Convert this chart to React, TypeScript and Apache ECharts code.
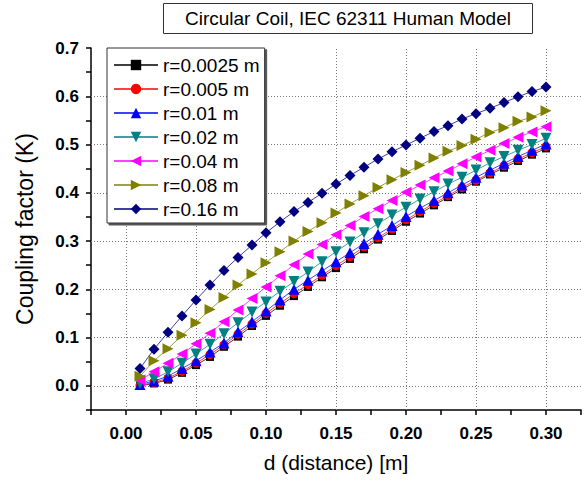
import React, { useEffect, useRef } from "react";
import * as echarts from "echarts";

const distances = [0.01,0.02,0.03,0.04,0.05,0.06,0.07,0.08,0.09,0.10,0.11,0.12,0.13,0.14,0.15,0.16,0.17,0.18,0.19,0.20,0.21,0.22,0.23,0.24,0.25,0.26,0.27,0.28,0.29,0.30];

const r0025 = [0.000,0.005,0.013,0.027,0.043,0.060,0.081,0.102,0.124,0.145,0.166,0.186,0.205,0.225,0.244,0.263,0.283,0.303,0.321,0.340,0.357,0.374,0.391,0.407,0.423,0.438,0.452,0.466,0.479,0.492];
const r005 = [0.001,0.007,0.016,0.030,0.047,0.065,0.085,0.107,0.128,0.150,0.171,0.191,0.210,0.229,0.249,0.268,0.288,0.307,0.325,0.344,0.361,0.378,0.394,0.411,0.426,0.441,0.456,0.470,0.483,0.496];
const r01 = [0.003,0.010,0.020,0.036,0.052,0.070,0.089,0.112,0.133,0.155,0.178,0.200,0.219,0.238,0.257,0.276,0.295,0.314,0.332,0.351,0.368,0.384,0.400,0.416,0.432,0.447,0.461,0.475,0.488,0.501];
const r02 = [0.005,0.014,0.029,0.047,0.066,0.086,0.108,0.131,0.153,0.174,0.196,0.216,0.236,0.257,0.278,0.298,0.317,0.336,0.354,0.370,0.387,0.402,0.418,0.432,0.447,0.462,0.475,0.488,0.500,0.513];
const r04 = [0.012,0.029,0.047,0.066,0.087,0.109,0.133,0.157,0.181,0.205,0.228,0.251,0.273,0.293,0.313,0.332,0.351,0.367,0.384,0.401,0.416,0.431,0.445,0.460,0.474,0.488,0.502,0.515,0.526,0.537];
const r08 = [0.020,0.052,0.077,0.105,0.131,0.158,0.183,0.209,0.232,0.255,0.278,0.300,0.320,0.338,0.358,0.377,0.394,0.411,0.427,0.442,0.457,0.472,0.486,0.498,0.511,0.525,0.535,0.548,0.557,0.570];
const r16 = [0.036,0.076,0.111,0.145,0.178,0.209,0.239,0.266,0.292,0.317,0.340,0.361,0.380,0.399,0.418,0.436,0.453,0.470,0.485,0.499,0.513,0.527,0.539,0.553,0.564,0.575,0.587,0.599,0.610,0.619];

const seriesNames = ["r=0.0025 m","r=0.005 m","r=0.01 m","r=0.02 m","r=0.04 m","r=0.08 m","r=0.16 m"];
const seriesValues = [r0025, r005, r01, r02, r04, r08, r16];
const seriesColors = ["#000000","#ff0000","#0000ff","#008080","#ff00ff","#808000","#000080"];
const seriesSymbols = ["rect","circle","triangle","triangle","triangle","triangle","diamond"];
const seriesRotations = [0,0,0,180,90,-90,0];
const seriesSizes = [8,9,11,11,11,11,11];

const xGridTicks = [0,0.05,0.10,0.15,0.20,0.25,0.30];
const yGridTicks = [0,0.1,0.2,0.3,0.4,0.5,0.6];

const titleText = "Circular Coil, IEC 62311 Human Model";
const xName = "d (distance) [m]";
const yName = "Coupling factor (K)";

const X_MIN = -0.025, X_MAX = 0.325, Y_MIN = -0.05, Y_MAX = 0.7;
const FONT = "'Liberation Sans', Arial, sans-serif";

export default function App() {
  const ref = useRef<HTMLDivElement>(null);
  useEffect(() => {
    if (!ref.current) return;
    const chart = echarts.init(ref.current, null, { renderer: "svg" });
    const gridLines = [
      ...xGridTicks.map((x) => ({ coords: [[x, Y_MIN], [x, Y_MAX]] })),
      ...yGridTicks.map((y) => ({ coords: [[X_MIN, y], [X_MAX, y]] })),
    ];
    const series: any[] = [
      {
        type: "lines",
        coordinateSystem: "cartesian2d",
        z: 1,
        silent: true,
        data: gridLines,
        lineStyle: { color: "#777", width: 1, type: [1, 2], opacity: 1 },
      },
      ...seriesNames.map((name, i) => ({
        type: "line",
        name,
        z: 2,
        data: distances.map((d, j) => [d, seriesValues[i][j]]),
        symbol: seriesSymbols[i],
        symbolRotate: seriesRotations[i],
        symbolSize: seriesSizes[i],
        showAllSymbol: true,
        lineStyle: { color: seriesColors[i], width: 1, opacity: 0.75 },
        itemStyle: { color: seriesColors[i], borderWidth: 0 },
      })),
    ];
    chart.setOption({
      animation: false,
      backgroundColor: "#ffffff",
      textStyle: { fontFamily: FONT },
      title: {
        text: titleText,
        left: 163,
        top: 3,
        padding: [6, 22, 6, 22],
        borderColor: "#333",
        borderWidth: 1,
        textStyle: { fontFamily: FONT, fontSize: 19, fontWeight: "normal", color: "#000" },
      },
      legend: {
        data: seriesNames,
        orient: "vertical",
        left: 107,
        top: 48,
        itemWidth: 44,
        itemHeight: 13,
        itemGap: 4,
        padding: [7, 5, 4, 6],
        borderColor: "#333",
        borderWidth: 1,
        backgroundColor: "#ffffff",
        shadowColor: "#555",
        shadowBlur: 1,
        shadowOffsetX: 2,
        shadowOffsetY: 2,
        textStyle: { fontFamily: FONT, fontSize: 19, lineHeight: 20, color: "#000" },
      },
      grid: { left: 91, top: 48, width: 490, height: 362 },
      xAxis: {
        type: "value",
        min: X_MIN,
        max: X_MAX,
        interval: 0.025,
        name: xName,
        nameLocation: "middle",
        nameGap: 42,
        nameTextStyle: { fontFamily: FONT, fontSize: 21, color: "#000" },
        axisLine: { show: true, onZero: false, lineStyle: { color: "#000", width: 1.5 } },
        axisTick: { show: true, length: 5, lineStyle: { color: "#000", width: 1.5 } },
        splitLine: { show: false },
        axisLabel: {
          margin: 15,
          fontFamily: FONT,
          fontSize: 17,
          fontWeight: "bold",
          color: "#000",
          formatter: (v: number) => {
            const k = Math.round(v / 0.025);
            if (k % 2 !== 0 || k < 0 || k > 12) return "";
            return (k * 0.025).toFixed(2);
          },
        },
      },
      yAxis: {
        type: "value",
        min: Y_MIN,
        max: Y_MAX,
        interval: 0.05,
        name: yName,
        nameLocation: "middle",
        nameGap: 55,
        nameTextStyle: { fontFamily: FONT, fontSize: 23, color: "#000" },
        axisLine: { show: true, onZero: false, lineStyle: { color: "#000", width: 1.5 } },
        axisTick: { show: true, length: 5, lineStyle: { color: "#000", width: 1.5 } },
        splitLine: { show: false },
        axisLabel: {
          margin: 12,
          fontFamily: FONT,
          fontSize: 17,
          fontWeight: "bold",
          color: "#000",
          formatter: (v: number) => {
            const k = Math.round(v / 0.05);
            if (k % 2 !== 0 || k < 0) return "";
            return (k * 0.05).toFixed(1);
          },
        },
      },
      series,
    });
    return () => chart.dispose();
  }, []);
  return (
    <div
      ref={ref}
      style={{ position: "absolute", left: 0, top: 0, width: 588, height: 484, background: "#fff" }}
    />
  );
}
